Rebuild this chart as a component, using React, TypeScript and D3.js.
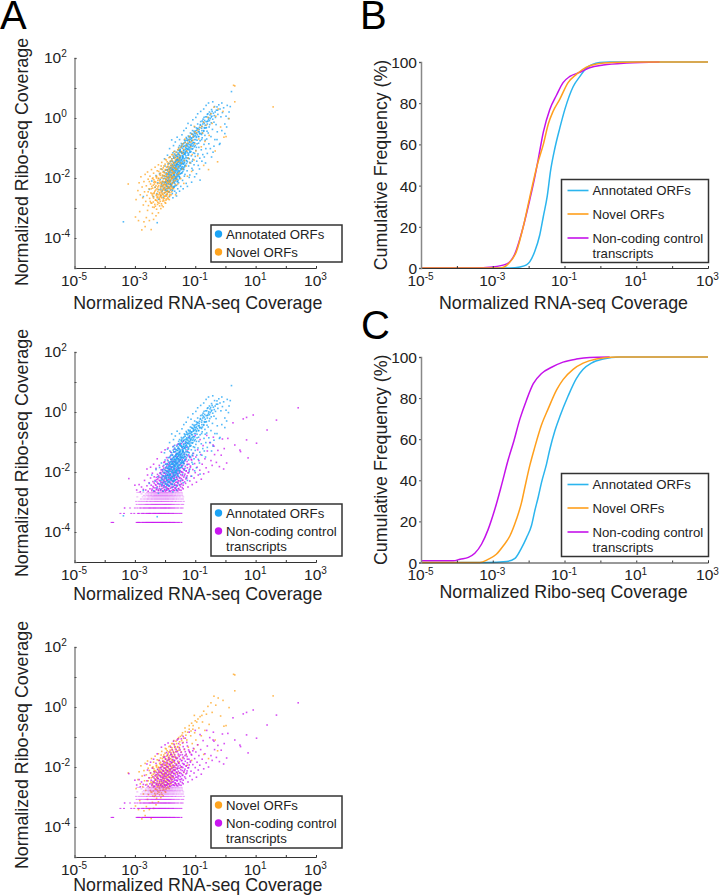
import * as d3 from 'd3';
import { useEffect, useRef } from 'react';

// all coordinates below are log10 of the normalized coverage
const annotatedPoints = [
  [-3.38,-3.46],[-2.26,-3.49],[-2.72,-2.62],[-2.52,-2.38],[-2.44,-2.1],[-2.38,-2.62],[-2.33,-2.31],[-2.3,-1.92],[-2.27,-2.52],[-2.24,-2.16],
  [-2.22,-2.71],[-2.2,-2.39],[-2.18,-1.85],[-2.16,-2.05],[-2.15,-2.58],[-2.13,-2.28],[-2.12,-1.7],[-2.1,-2.45],[-2.09,-2.12],[-2.08,-1.93],
  [-2.06,-2.64],[-2.05,-2.34],[-2.04,-1.78],[-2.03,-2.2],[-2.02,-2.5],[-2.01,-2.01],[-2,-1.6],[-1.99,-2.41],[-1.98,-2.15],[-1.97,-1.87],
  [-1.96,-2.56],[-1.95,-2.26],[-1.94,-1.96],[-1.93,-1.72],[-1.92,-2.36],[-1.91,-2.08],[-1.9,-1.52],[-1.89,-2.47],[-1.88,-2.18],[-1.87,-1.81],
  [-1.86,-2.62],[-1.85,-2.3],[-1.84,-1.99],[-1.83,-1.66],[-1.82,-2.4],[-1.81,-2.1],[-1.8,-1.43],[-1.79,-1.9],[-1.78,-2.23],[-1.77,-1.74],
  [-1.76,-2.52],[-1.75,-2.02],[-1.74,-1.58],[-1.73,-2.33],[-1.72,-1.84],[-1.71,-1.33],[-1.7,-2.14],[-1.69,-1.66],[-1.68,-2.44],[-1.67,-1.94],
  [-1.66,-1.48],[-1.65,-2.26],[-1.64,-1.76],[-1.63,-1.26],[-1.62,-2.06],[-1.61,-1.57],[-1.6,-1.38],[-1.59,-1.88],[-1.58,-2.36],[-1.57,-1.68],
  [-1.56,-1.17],[-1.55,-2.16],[-1.54,-1.47],[-1.53,-1.79],[-1.52,-1.07],[-1.51,-1.98],[-1.5,-1.3],[-1.49,-1.6],[-1.48,-2.28],[-1.47,-1.4],
  [-1.46,-0.97],[-1.45,-1.84],[-1.44,-1.18],[-1.43,-1.52],[-1.42,-2.08],[-1.41,-1.28],[-1.4,-0.86],[-1.39,-1.7],[-1.38,-1.08],[-1.37,-1.42],
  [-1.36,-1.94],[-1.35,-1.2],[-1.34,-0.76],[-1.33,-1.58],[-1.32,-0.98],[-1.31,-1.32],[-1.3,-2.18],[-1.29,-1.1],[-1.28,-0.68],[-1.27,-1.76],
  [-1.26,-1.46],[-1.25,-0.9],[-1.24,-1.24],[-1.23,-0.6],[-1.22,-1.6],[-1.21,-1.02],[-1.2,-1.36],[-1.19,-0.78],[-1.18,-1.9],[-1.17,-1.14],
  [-1.16,-0.5],[-1.15,-1.5],[-1.14,-0.92],[-1.13,-1.26],[-1.12,-0.68],[-1.11,-1.68],[-1.1,-1.04],[-1.09,-0.42],[-1.08,-1.38],[-1.07,-0.82],
  [-1.06,-1.16],[-1.05,-0.6],[-1.04,-1.56],[-1.03,-0.96],[-1.02,-0.3],[-1,-1.28],[-0.99,-0.72],[-0.98,-1.08],[-0.96,-0.5],[-0.95,-1.44],
  [-0.94,-0.86],[-0.92,-0.2],[-0.91,-1.2],[-0.9,-0.62],[-0.88,-0.98],[-0.87,-0.38],[-0.85,-1.34],[-0.84,-0.76],[-0.82,-0.12],[-0.81,-0.52],
  [-0.8,-1.06],[-0.78,-0.28],[-0.77,-0.66],[-0.75,-1.22],[-0.74,-0.04],[-0.72,-0.42],[-0.71,-0.88],[-0.7,-0.18],[-0.68,-0.58],[-0.66,0.04],
  [-0.65,-1.02],[-0.63,-0.32],[-0.62,-0.7],[-0.6,0.12],[-0.58,-0.1],[-0.57,-0.5],[-0.55,-0.86],[-0.53,0.2],[-0.52,-0.22],[-0.5,-0.02],
  [-0.48,-0.62],[-0.46,0.28],[-0.45,0.06],[-0.43,-0.38],[-0.41,-1.14],[-0.4,0.16],[-0.38,-0.14],[-0.36,0.38],[-0.35,-0.72],[-0.33,0.02],
  [-0.3,0.26],[-0.28,0.37],[-0.27,-0.46],[-0.25,0.12],[-0.22,0.44],[-0.2,-0.88],[-0.18,0.3],[-0.15,0.04],[-0.12,0.5],[-0.1,0.18],
  [-0.06,0.34],[-0.02,-0.2],[0.02,0.06],[0.06,0.42],[0.1,-0.02],[0.2,0.88],[-1.72,-2.05],[-1.68,-1.2],[-1.63,-2.5],[-1.58,-1.55],
  [-1.55,-0.98],[-1.52,-2.02],[-1.49,-1.12],[-1.46,-1.7],[-1.42,-1.62],[-1.4,-1.14],[-1.36,-1.5],[-1.34,-1.88],[-1.3,-0.9],[-1.28,-1.42],
  [-1.24,-0.72],[-1.22,-1.18],[-1.18,-1.48],[-1.16,-0.96],[-1.12,-0.52],[-1.1,-1.44],[-1.06,-0.9],[-1.02,-1.18],[-1,-0.58],[-0.96,-0.98],
  [-1.78,-1.6],[-1.75,-2.42],[-1.72,-1.5],[-1.7,-1.9],[-1.68,-1.58],[-1.66,-2.1],[-1.64,-1.44],[-1.62,-1.72],[-1.6,-1.96],[-1.58,-1.28],
  [-1.56,-1.74],[-1.54,-1.22],[-1.52,-1.6],[-1.5,-1.86],[-1.48,-1.5],[-1.46,-1.14],[-1.44,-1.68],[-1.42,-1.34],[-1.4,-1.52],[-1.38,-1.72],
  [-1.9,-1.84],[-1.88,-2.32],[-1.86,-1.72],[-1.84,-2.12],[-1.82,-1.9],[-1.8,-2.28],[-1.78,-1.98],[-1.76,-1.68],[-1.74,-2.16],[-1.72,-1.72],
  [-1.7,-2.3],[-1.68,-1.82],[-1.66,-1.64],[-1.64,-2.0],[-1.62,-1.52],[-1.6,-1.8],[-1.58,-2.12],[-1.56,-1.42],[-1.54,-1.94],[-1.52,-1.36],
  [-1.98,-1.74],[-1.96,-2.12],[-1.94,-2.44],[-1.92,-1.88],[-1.9,-2.2],[-1.88,-1.98],[-1.86,-2.46],[-1.84,-1.82],[-1.82,-2.22],[-1.8,-1.74],
  [-1.5,-1.08],[-1.47,-1.54],[-1.44,-0.9],[-1.41,-1.4],[-1.38,-0.94],[-1.35,-1.62],[-1.32,-1.16],[-1.29,-1.52],[-1.26,-1.04],[-1.23,-1.34],
  [-1.2,-0.88],[-1.17,-0.66],[-1.14,-1.12],[-1.11,-0.76],[-1.08,-1.02],[-1.05,-0.82],[-1.03,-0.48],[-1,-0.92],[-0.97,-0.62],[-0.93,-0.36],
  [-0.89,-0.84],[-0.86,-0.5],[-0.83,-0.24],[-0.79,-0.72],[-0.76,-0.5],[-0.73,-0.14],[-0.69,-0.34],[-0.67,-0.74],[-0.64,-0.12],[-0.61,-0.44],
  [-0.56,-0.04],[-0.54,-0.3],[-0.51,0.1],[-0.47,-0.16],[-0.44,0.22],[-0.42,-0.04],[-0.37,0.08],[-0.34,0.2],[-0.31,-0.22],[-0.26,0.26],
];

// the dense middle of the annotated cloud, read band by band in y
const annotatedCore = [
  [-2.14,-2.37],[-1.93,-2.43],[-2.01,-2.33],[-1.77,-2.39],[-1.87,-2.35],[-2.09,-2.41],[-1.71,-2.31],[-1.98,-2.38],
  [-2.07,-2.27],[-1.79,-2.24],[-1.91,-2.3],[-1.97,-2.22],[-1.69,-2.27],[-2.12,-2.23],[-1.84,-2.21],[-1.62,-2.24],[-1.94,-2.28],[-1.74,-2.29],
  [-2.03,-2.14],[-1.68,-2.18],[-1.86,-2.13],[-1.95,-2.19],[-1.6,-2.12],[-1.76,-2.16],[-2.1,-2.17],[-1.81,-2.19],[-1.9,-2.11],[-1.72,-2.12],[-1.99,-2.13],
  [-1.65,-2.03],[-1.83,-2.07],[-1.96,-2.04],[-1.73,-2.09],[-2.06,-2.02],[-1.57,-2.07],[-1.88,-2.03],[-1.78,-2.01],[-1.69,-2.03],[-1.92,-2.08],[-1.62,-2.01],[-1.85,-2.09],
  [-1.98,-1.95],[-1.74,-1.98],[-1.6,-1.92],[-1.87,-1.94],[-1.67,-1.99],[-1.53,-1.96],[-2.03,-1.92],[-1.8,-1.92],[-1.7,-1.93],[-1.91,-1.98],[-1.56,-1.9],[-1.76,-1.94],[-1.64,-1.96],
  [-1.85,-1.87],[-1.58,-1.83],[-1.72,-1.89],[-1.96,-1.83],[-1.48,-1.85],[-1.66,-1.81],[-1.79,-1.83],[-1.89,-1.89],[-1.54,-1.88],[-1.62,-1.86],[-1.75,-1.82],[-1.69,-1.87],[-1.44,-1.82],
  [-1.82,-1.77],[-1.6,-1.73],[-1.71,-1.79],[-1.51,-1.76],[-1.93,-1.74],[-1.65,-1.71],[-1.41,-1.78],[-1.77,-1.72],[-1.56,-1.79],[-1.86,-1.79],[-1.68,-1.76],[-1.47,-1.72],[-1.74,-1.74],
  [-1.79,-1.66],[-1.57,-1.62],[-1.67,-1.69],[-1.45,-1.64],[-1.9,-1.63],[-1.61,-1.67],[-1.73,-1.62],[-1.5,-1.68],[-1.38,-1.65],[-1.84,-1.68],[-1.63,-1.62],[-1.54,-1.64],[-1.7,-1.66],[-1.42,-1.69],
  [-1.76,-1.55],[-1.6,-1.53],[-1.49,-1.58],[-1.66,-1.59],[-1.86,-1.52],[-1.39,-1.54],[-1.55,-1.56],[-1.71,-1.51],[-1.44,-1.51],[-1.63,-1.55],[-1.81,-1.58],[-1.34,-1.58],[-1.52,-1.52],[-1.69,-1.57],
  [-1.75,-1.44],[-1.58,-1.48],[-1.47,-1.43],[-1.64,-1.42],[-1.36,-1.47],[-1.53,-1.41],[-1.82,-1.46],[-1.42,-1.46],[-1.68,-1.47],[-1.3,-1.42],[-1.55,-1.45],[-1.6,-1.41],[-1.49,-1.47],
  [-1.71,-1.33],[-1.56,-1.37],[-1.43,-1.32],[-1.62,-1.38],[-1.35,-1.36],[-1.5,-1.33],[-1.78,-1.36],[-1.27,-1.33],[-1.46,-1.38],[-1.65,-1.31],[-1.39,-1.33],[-1.53,-1.31],
  [-1.66,-1.24],[-1.48,-1.27],[-1.38,-1.22],[-1.58,-1.21],[-1.31,-1.26],[-1.43,-1.25],[-1.73,-1.27],[-1.22,-1.23],[-1.52,-1.24],[-1.34,-1.21],[-1.6,-1.28],[-1.41,-1.28],
  [-1.61,-1.14],[-1.44,-1.17],[-1.33,-1.12],[-1.52,-1.11],[-1.26,-1.16],[-1.38,-1.15],[-1.18,-1.13],[-1.47,-1.13],[-1.68,-1.11],[-1.29,-1.11],[-1.35,-1.18],
  [-1.5,-1.04],[-1.39,-1.07],[-1.27,-1.03],[-1.22,-1.06],[-1.43,-1.01],[-1.33,-1.05],[-1.14,-1.02],[-1.56,-1.07],[-1.3,-1.01],[-1.18,-1.07],
  [-1.46,-0.94],[-1.34,-0.92],[-1.24,-0.96],[-1.16,-0.91],[-1.39,-0.96],[-1.28,-0.93],[-1.09,-0.94],[-1.52,-0.92],[-1.2,-0.98],
  [-1.37,-0.83],[-1.28,-0.86],[-1.18,-0.81],[-1.1,-0.85],[-1.33,-0.81],[-1.23,-0.84],[-1.02,-0.83],[-1.46,-0.85],[-1.14,-0.87],
  [-1.29,-0.74],[-1.2,-0.71],[-1.11,-0.75],[-1.03,-0.72],[-1.25,-0.76],[-1.15,-0.72],[-0.94,-0.74],[-1.36,-0.73],
  [-1.21,-0.63],[-1.12,-0.66],[-1.04,-0.62],[-0.96,-0.65],[-1.17,-0.61],[-1.07,-0.64],[-0.88,-0.62],[-1.3,-0.65],
  [-1.1,-0.54],[-1.03,-0.52],[-0.93,-0.56],[-0.85,-0.53],[-1.07,-0.56],[-0.98,-0.52],[-0.79,-0.55],
  [-1.04,-0.44],[-0.95,-0.41],[-0.87,-0.45],[-0.78,-0.42],[-0.99,-0.43],[-0.9,-0.46],[-0.72,-0.44],
  [-0.96,-0.33],[-0.86,-0.31],[-0.79,-0.34],[-0.7,-0.32],[-0.91,-0.35],[-0.65,-0.33],[-0.83,-0.22],[-0.75,-0.2],[-0.67,-0.24],[-0.6,-0.2],
  [-0.77,-0.1],[-0.69,-0.08],[-0.6,-0.12],[-0.53,-0.09],[-0.71,0.02],[-0.62,0.04],[-0.55,0.01],[-0.47,0.03],[-0.58,0.14],[-0.49,0.15],
];

// stragglers on both sides of the annotated ridge
const annotatedFlanks = [
  [-1.78,-0.73],[-1.85,-1.02],[-1.92,-1.24],[-2.02,-1.36],[-1.72,-0.92],[-1.66,-0.8],[-1.6,-0.64],[-1.74,-1.16],[-1.84,-1.3],[-1.52,-0.72],
  [-1.44,-0.56],[-1.38,-0.42],[-1.3,-0.34],[-1.24,-0.18],[-1.14,-0.24],[-1.08,-0.06],[-0.98,0.02],[-0.92,0.14],[-0.82,0.22],[-0.72,0.3],
  [-0.64,0.42],[-0.56,0.5],[-0.42,0.54],[-0.84,-2.07],[-0.96,-1.86],[-1.08,-1.74],[-0.9,-1.58],[-0.78,-1.44],[-0.7,-1.3],[-0.6,-1.18],
  [-0.5,-1.02],[-0.38,-0.94],[-0.28,-0.72],[-0.18,-0.85],[-0.12,-0.42],[-0.02,-0.52],[0.04,-0.3],[0.12,0.2],[0.16,0.38],[-1.2,-1.98],
  [-1.12,-2.14],[-1.26,-2.28],[-1.4,-2.36],[-1.52,-2.44],[-1.62,-2.6],[-1.74,-2.66],[-1.02,-1.96],[-0.86,-1.7],[-0.66,-1.5],[-0.46,-1.3],
];

const novelPoints = [
  [-3.22,-2.2],[-2.77,-3.73],[-2.98,-3.3],[-2.88,-3.42],[-2.84,-3.12],[-2.7,-3.46],[-2.66,-3.62],[-2.62,-3.32],[-2.58,-3.08],[-2.52,-3.42],
  [-2.46,-3.72],[-2.42,-3.18],[-2.38,-3.38],[-2.3,-3.26],[-2.22,-3.16],[-2.14,-3.02],[-2.96,-2.72],[-2.9,-2.42],[-2.86,-2.16],[-2.82,-2.56],
  [-2.8,-1.96],[-2.76,-2.3],[-2.74,-2.66],[-2.72,-2.9],[-2.7,-2.12],[-2.68,-2.46],[-2.66,-1.88],[-2.64,-2.78],[-2.62,-2.26],[-2.6,-2.58],
  [-2.58,-1.8],[-2.56,-2.04],[-2.55,-2.92],[-2.53,-2.36],[-2.51,-2.68],[-2.5,-1.94],[-2.48,-2.2],[-2.47,-2.5],[-2.45,-1.72],[-2.44,-2.84],
  [-2.42,-2.02],[-2.41,-2.34],[-2.4,-2.62],[-2.38,-1.84],[-2.37,-2.14],[-2.36,-2.98],[-2.34,-2.44],[-2.33,-1.64],[-2.32,-2.74],[-2.3,-2.26],
  [-2.29,-1.96],[-2.28,-2.54],[-2.26,-1.76],[-2.25,-2.88],[-2.24,-2.08],[-2.23,-2.38],[-2.22,-1.56],[-2.2,-2.64],[-2.19,-2.18],[-2.18,-1.88],
  [-2.17,-2.48],[-2.16,-2.78],[-2.15,-1.7],[-2.14,-2.28],[-2.13,-2.0],[-2.12,-2.58],[-2.11,-1.48],[-2.1,-2.92],[-2.09,-2.12],[-2.08,-2.4],
  [-2.07,-1.8],[-2.06,-2.7],[-2.05,-2.22],[-2.04,-1.6],[-2.03,-2.5],[-2.02,-1.94],[-2.01,-2.32],[-2,-2.82],[-1.99,-1.72],[-1.98,-2.06],
  [-1.97,-2.6],[-1.96,-1.4],[-1.95,-2.24],[-1.94,-1.86],[-1.93,-2.44],[-1.92,-1.62],[-1.91,-2.14],[-1.9,-2.7],[-1.89,-1.98],[-1.88,-1.5],
  [-1.87,-2.34],[-1.86,-1.76],[-1.85,-2.1],[-1.84,-2.56],[-1.83,-1.3],[-1.82,-1.9],[-1.81,-2.26],[-1.8,-1.58],[-1.79,-2.02],[-1.78,-2.46],
  [-1.77,-1.42],[-1.76,-1.78],[-1.75,-2.16],[-1.74,-1.22],[-1.73,-1.96],[-1.72,-2.36],[-1.71,-1.52],[-1.7,-1.84],[-1.68,-1.34],[-1.67,-2.08],
  [-1.66,-1.68],[-1.65,-2.56],[-1.64,-1.14],[-1.62,-1.9],[-1.6,-1.46],[-1.58,-2.2],[-1.56,-1.62],[-1.55,-1.02],[-1.53,-1.82],[-1.5,-1.26],
  [-1.48,-2.02],[-1.46,-1.5],[-1.44,-0.94],[-1.42,-1.7],[-1.4,-1.18],[-1.38,-2.18],[-1.36,-1.42],[-1.33,-0.82],[-1.3,-1.6],[-1.28,-1.1],
  [-1.26,-1.94],[-1.23,-1.34],[-1.2,-0.74],[-1.18,-1.5],[-1.15,-0.96],[-1.12,-1.78],[-1.1,-1.22],[-1.07,-0.62],[-1.04,-1.4],[-1.02,-0.86],
  [-0.98,-1.1],[-0.95,-0.5],[-0.92,-1.26],[-0.88,-0.7],[-0.84,-0.32],[-0.8,-0.96],[-0.76,-0.5],[-0.72,-0.14],[-0.68,-0.78],[-0.63,-0.24],
  [-0.58,0.02],[-0.54,-0.58],[-0.48,0.14],[-0.44,-0.18],[-0.38,0.36],[-0.32,0.06],[-0.26,-1.46],[-0.24,0.3],[-0.16,-0.3],[-0.08,0.22],
  [0.02,-0.62],[-0.05,-0.64],[0.12,-0.02],[0.31,1.07],[0.27,1.09],[0.31,0.54],[1.58,0.37],[-0.56,-1.72],[-0.72,-1.58],[-0.34,-1.1],
  [-2.44,-2.28],[-2.4,-2.0],[-2.37,-2.52],[-2.34,-2.12],[-2.31,-2.4],[-2.28,-2.0],[-2.26,-2.62],[-2.24,-2.3],[-2.21,-2.02],[-2.19,-2.5],
  [-2.18,-2.72],[-2.16,-2.14],[-2.14,-2.42],[-2.12,-2.2],[-2.11,-2.66],[-2.09,-1.9],[-2.08,-2.54],[-2.06,-2.34],[-2.05,-2.02],[-2.04,-2.76],
  [-2.03,-2.14],[-2.02,-2.4],[-2.01,-1.82],[-2,-2.6],[-1.99,-2.22],[-1.98,-2.48],[-1.97,-1.94],[-1.96,-2.7],[-1.95,-2.12],[-1.94,-2.34],
  [-1.93,-2.0],[-1.92,-2.54],[-1.91,-1.78],[-1.9,-2.28],[-1.89,-2.44],[-1.88,-2.06],[-1.87,-1.68],[-1.86,-2.22],[-1.85,-2.6],[-1.84,-1.92],
  [-1.83,-2.12],[-1.82,-2.4],[-1.81,-1.72],[-1.8,-2.06],[-1.79,-2.3],[-1.78,-1.88],[-1.77,-2.0],[-1.76,-1.6],[-1.75,-2.34],[-1.74,-1.84],
  [-1.72,-2.1],[-1.7,-1.66],[-1.68,-1.96],[-1.66,-2.22],[-1.64,-1.5],[-1.62,-1.72],[-1.6,-2.04],[-1.58,-1.32],[-1.56,-1.86],[-1.54,-1.44],
  [-2.56,-2.46],[-2.52,-2.12],[-2.49,-2.78],[-2.46,-2.36],[-2.43,-2.52],[-2.39,-2.8],[-2.35,-2.2],[-2.32,-2.94],[-2.27,-2.76],[-2.23,-2.56],
  [-2.2,-2.84],[-2.15,-2.6],[-2.1,-2.52],[-2.07,-2.24],[-2.02,-2.62],[-1.98,-2.84],[-1.94,-2.6],[-1.9,-2.46],[-1.86,-2.72],[-1.8,-2.56],
];

const novelCore = [
  [-2.41,-2.97],[-2.28,-3.04],[-2.18,-2.93],[-2.34,-2.88],[-2.06,-2.96],[-2.47,-2.83],[-2.12,-2.86],[-2.24,-2.81],
  [-2.31,-2.73],[-2.19,-2.69],[-2.08,-2.77],[-2.38,-2.67],[-1.97,-2.74],[-2.14,-2.63],[-2.26,-2.66],[-2.03,-2.68],[-1.91,-2.66],
  [-2.29,-2.58],[-2.17,-2.54],[-2.05,-2.57],[-2.36,-2.49],[-1.93,-2.52],[-2.11,-2.47],[-2.24,-2.45],[-1.99,-2.47],[-2.42,-2.57],[-1.84,-2.49],
  [-2.27,-2.36],[-2.15,-2.33],[-2.04,-2.38],[-2.33,-2.31],[-1.95,-2.36],[-2.09,-2.29],[-2.21,-2.26],[-1.88,-2.31],[-2.39,-2.24],[-2,-2.27],[-1.81,-2.35],
  [-2.25,-2.19],[-2.13,-2.17],[-2.01,-2.21],[-2.31,-2.14],[-1.92,-2.17],[-2.07,-2.11],[-2.18,-2.09],[-1.85,-2.14],[-2.37,-2.06],[-1.97,-2.09],[-1.78,-2.19],
  [-2.22,-2.01],[-2.1,-1.98],[-1.98,-2.03],[-2.28,-1.94],[-1.89,-1.99],[-2.04,-1.92],[-2.16,-1.91],[-1.82,-1.96],[-1.94,-1.91],[-1.74,-2.01],
  [-2.15,-1.84],[-2.03,-1.82],[-1.93,-1.86],[-2.21,-1.78],[-1.85,-1.82],[-1.98,-1.74],[-2.09,-1.72],[-1.77,-1.76],[-1.89,-1.71],[-1.7,-1.81],
  [-2.06,-1.66],[-1.95,-1.64],[-1.84,-1.62],[-2.13,-1.6],[-1.76,-1.66],[-1.9,-1.56],[-2,-1.54],[-1.69,-1.58],[-1.8,-1.52],[-1.64,-1.7],
  [-1.93,-1.46],[-1.83,-1.44],[-1.73,-1.48],[-1.99,-1.38],[-1.66,-1.4],[-1.77,-1.36],[-1.87,-1.32],[-1.59,-1.34],[-1.69,-1.28],[-1.52,-1.38],
  [-1.78,-1.22],[-1.62,-1.22],[-1.52,-1.16],[-1.71,-1.12],[-1.45,-1.12],[-1.58,-1.06],[-1.38,-1.04],[-1.49,-0.98],[-1.31,-0.94],[-1.42,-0.86],
  [-1.25,-0.84],[-1.14,-0.8],[-1.34,-0.7],[-1.2,-0.62],[-1.08,-0.74],[-1.12,-0.54],[-1.0,-0.46],[-1.03,-0.28],[-0.91,-0.4],[-0.78,-0.28],
];

const noncodingPoints = [
  [-3.2,-2.22],[-3,-2.44],[-3.34,-3.2],[2.41,0.14],[1.69,-0.27],[1.38,-0.6],[0.92,-0.1],[0.7,-0.18],[0.59,-0.23],[0.25,-0.36],
  [1.03,-1.04],[0.7,-0.93],[0.48,-1.27],[0.5,-1.32],[0.31,-1.1],[0.75,-1.53],[-0.41,-1.1],[-0.38,-1.14],[-0.1,-0.9],[-0.25,-1.28],
  [-2.94,-2.6],[-2.86,-2.42],[-2.82,-2.66],[-2.78,-2.5],[-2.72,-2.58],[-2.68,-2.28],[-2.64,-2.6],[-2.6,-2.46],[-2.58,-2.1],[-2.56,-2.64],
  [-2.53,-2.36],[-2.5,-2.56],[-2.48,-2.2],[-2.46,-2.44],[-2.44,-2.62],[-2.42,-2.04],[-2.4,-2.32],[-2.38,-2.52],[-2.36,-2.16],[-2.34,-2.64],
  [-2.32,-2.42],[-2.3,-1.88],[-2.28,-2.26],[-2.27,-2.56],[-2.25,-2.08],[-2.24,-2.38],[-2.22,-2.6],[-2.2,-2.18],[-2.19,-1.78],[-2.18,-2.48],
  [-2.16,-2.3],[-2.15,-2.62],[-2.14,-2.02],[-2.12,-2.42],[-2.11,-2.2],[-2.1,-2.55],[-2.09,-1.92],[-2.08,-2.34],[-2.07,-2.64],[-2.06,-2.12],
  [-2.05,-2.46],[-2.04,-1.68],[-2.03,-2.26],[-2.02,-2.58],[-2.01,-2.04],[-2,-2.38],[-1.99,-2.64],[-1.98,-1.86],[-1.97,-2.18],[-1.96,-2.5],
  [-1.95,-2.3],[-1.94,-2.6],[-1.93,-1.98],[-1.92,-2.42],[-1.91,-2.12],[-1.9,-2.56],[-1.89,-1.76],[-1.88,-2.24],[-1.87,-2.46],[-1.86,-2.64],
  [-1.85,-1.92],[-1.84,-2.34],[-1.83,-2.08],[-1.82,-2.54],[-1.81,-1.58],[-1.8,-2.2],[-1.79,-2.42],[-1.78,-2.62],[-1.77,-1.84],[-1.76,-2.14],
  [-1.75,-2.5],[-1.74,-2.3],[-1.73,-1.66],[-1.72,-2.02],[-1.71,-2.6],[-1.7,-2.22],[-1.69,-2.44],[-1.68,-1.78],[-1.67,-2.1],[-1.66,-2.54],
  [-1.65,-2.34],[-1.64,-1.48],[-1.63,-1.94],[-1.62,-2.62],[-1.61,-2.18],[-1.6,-2.44],[-1.59,-1.7],[-1.58,-2.04],[-1.57,-2.3],[-1.56,-2.56],
  [-1.54,-1.88],[-1.52,-2.2],[-1.5,-1.6],[-1.48,-2.42],[-1.46,-2.0],[-1.44,-1.78],[-1.42,-2.28],[-1.4,-2.56],[-1.38,-1.9],[-1.36,-2.12],
  [-1.34,-1.62],[-1.32,-2.38],[-1.3,-1.96],[-1.28,-2.2],[-1.26,-1.74],[-1.24,-2.5],[-1.22,-2.02],[-1.2,-1.48],[-1.18,-2.3],[-1.16,-1.84],
  [-1.14,-2.14],[-1.12,-1.6],[-1.1,-2.42],[-1.08,-1.92],[-1.06,-1.38],[-1.04,-2.2],[-1.02,-1.72],[-1,-2.02],[-0.98,-1.5],[-0.96,-2.34],
  [-0.94,-1.84],[-0.92,-1.26],[-0.9,-2.1],[-0.88,-1.62],[-0.85,-1.94],[-0.82,-1.42],[-0.8,-2.24],[-0.77,-1.74],[-0.74,-1.12],[-0.72,-2.06],
  [-0.68,-1.56],[-0.64,-1.86],[-0.6,-1.3],[-0.56,-2.0],[-0.52,-1.02],[-0.48,-1.62],[-0.44,-1.78],[-0.4,-0.84],[-0.36,-1.42],[-0.3,-1.68],
  [-0.2,-1.82],[-0.14,-1.44],[-0.06,-1.9],[-0.04,-1.22],[0.04,-1.7],[0.08,-0.88],[-0.62,-0.78],[-0.84,-0.92],[-1.0,-0.78],[-1.2,-0.84],
  [-1.4,-0.98],[-1.56,-1.06],[-1.72,-1.14],[-1.9,-1.2],[-2.0,-1.26],[-2.12,-1.34],[-2.26,-1.56],[-2.38,-1.74],[-2.48,-1.84],[-2.6,-1.9],
];

const noncodingCore = [
  [-2.37,-2.64],[-2.22,-2.62],[-2.09,-2.63],[-1.95,-2.61],[-1.83,-2.64],[-1.69,-2.62],[-1.58,-2.63],[-1.47,-2.61],[-2.29,-2.59],[-2.14,-2.58],[-2.01,-2.6],[-1.88,-2.57],[-1.74,-2.59],[-1.63,-2.58],[-1.52,-2.6],[-2.43,-2.57],
  [-2.33,-2.53],[-2.19,-2.55],[-2.05,-2.52],[-1.92,-2.54],[-1.79,-2.51],[-1.67,-2.53],[-1.55,-2.55],[-1.43,-2.52],[-2.26,-2.49],[-2.11,-2.47],[-1.98,-2.5],[-1.85,-2.47],[-1.72,-2.49],[-1.6,-2.47],[-1.49,-2.49],[-2.4,-2.48],
  [-2.3,-2.44],[-2.17,-2.42],[-2.03,-2.45],[-1.89,-2.43],[-1.76,-2.41],[-1.64,-2.44],[-1.53,-2.42],[-1.4,-2.44],[-2.23,-2.39],[-2.07,-2.38],[-1.94,-2.4],[-1.81,-2.37],[-1.69,-2.39],[-1.57,-2.37],[-1.45,-2.39],[-2.36,-2.37],
  [-2.27,-2.33],[-2.13,-2.34],[-1.99,-2.32],[-1.86,-2.35],[-1.73,-2.32],[-1.61,-2.34],[-1.49,-2.32],[-1.35,-2.33],[-2.19,-2.28],[-2.04,-2.3],[-1.91,-2.27],[-1.78,-2.29],[-1.66,-2.27],[-1.54,-2.29],[-1.42,-2.27],[-2.33,-2.28],
  [-2.24,-2.23],[-2.09,-2.24],[-1.96,-2.22],[-1.83,-2.25],[-1.71,-2.22],[-1.59,-2.24],[-1.46,-2.22],[-1.31,-2.23],[-2.15,-2.18],[-2.01,-2.2],[-1.87,-2.17],[-1.75,-2.19],[-1.63,-2.17],[-1.51,-2.19],[-1.38,-2.17],[-2.29,-2.18],
  [-2.21,-2.13],[-2.06,-2.14],[-1.93,-2.12],[-1.8,-2.15],[-1.68,-2.12],[-1.56,-2.14],[-1.43,-2.12],[-1.27,-2.13],[-2.12,-2.08],[-1.98,-2.09],[-1.84,-2.07],[-1.72,-2.1],[-1.6,-2.07],[-1.48,-2.09],[-1.34,-2.07],
  [-2.17,-2.03],[-2.03,-2.04],[-1.9,-2.02],[-1.77,-2.05],[-1.65,-2.02],[-1.53,-2.04],[-1.41,-2.02],[-1.24,-2.03],[-2.08,-1.98],[-1.95,-1.99],[-1.82,-1.97],[-1.7,-2.0],[-1.57,-1.97],[-1.45,-1.99],[-1.3,-1.97],
  [-2.13,-1.93],[-1.99,-1.94],[-1.86,-1.91],[-1.74,-1.94],[-1.62,-1.92],[-1.5,-1.95],[-1.37,-1.92],[-1.2,-1.93],[-2.04,-1.87],[-1.91,-1.88],[-1.79,-1.86],[-1.67,-1.88],[-1.55,-1.86],[-1.42,-1.88],[-1.26,-1.86],
  [-2.07,-1.81],[-1.94,-1.8],[-1.82,-1.82],[-1.7,-1.79],[-1.58,-1.81],[-1.46,-1.79],[-1.33,-1.81],[-1.16,-1.8],[-1.98,-1.74],[-1.85,-1.73],[-1.74,-1.75],[-1.62,-1.72],[-1.5,-1.74],[-1.37,-1.72],[-1.21,-1.74],
  [-2.01,-1.66],[-1.88,-1.68],[-1.77,-1.65],[-1.65,-1.67],[-1.53,-1.65],[-1.4,-1.67],[-1.27,-1.65],[-1.92,-1.6],[-1.8,-1.58],[-1.68,-1.6],[-1.56,-1.57],[-1.43,-1.59],[-1.3,-1.57],[-1.13,-1.58],
  [-1.95,-1.52],[-1.84,-1.5],[-1.72,-1.52],[-1.59,-1.49],[-1.47,-1.51],[-1.33,-1.49],[-1.18,-1.52],[-1.76,-1.43],[-1.63,-1.41],[-1.5,-1.43],[-1.36,-1.4],[-1.22,-1.43],[-1.08,-1.46],
  [-1.81,-1.34],[-1.67,-1.33],[-1.53,-1.35],[-1.4,-1.32],[-1.26,-1.3],[-1.7,-1.24],[-1.55,-1.22],[-1.42,-1.2],[-1.28,-1.18],[-1.6,-1.1],[-1.46,-1.06],[-1.33,-1.04],
];

// discrete low-read rows of the non-coding set: one read, two reads, and so on
const rowLevels = [-3.68, -3.38, -3.2, -3.08, -2.98, -2.9, -2.83, -2.78, -2.73, -2.68];
const rowXs = [
  [-3.77,-3.72,-2.94,-2.9,-2.86,-2.82,-2.76,-2.72,-2.68,-2.64,-2.61,-2.58,-2.55,-2.52,-2.49,-2.46,-2.43,-2.4,-2.37,-2.34,-2.31,-2.28,-2.25,-2.22,-2.19,-2.16,-2.13,-2.1,-2.07,-2.04,-2.01,-1.98,-1.95,-1.92,-1.88,-1.85,-1.82,-1.78,-1.74,-1.7,-1.66,-1.6,-1.54,-1.46],
  [-3.48,-3.36,-3.12,-3.02,-2.9,-2.86,-2.78,-2.74,-2.7,-2.64,-2.6,-2.56,-2.53,-2.5,-2.47,-2.42,-2.39,-2.36,-2.33,-2.3,-2.26,-2.23,-2.2,-2.17,-2.14,-2.11,-2.08,-2.05,-2.02,-1.99,-1.96,-1.92,-1.89,-1.86,-1.82,-1.78,-1.74,-1.7,-1.64,-1.58,-1.52,-1.46],
  [-3.16,-3.0,-2.92,-2.84,-2.8,-2.74,-2.7,-2.66,-2.62,-2.58,-2.54,-2.51,-2.48,-2.45,-2.41,-2.38,-2.35,-2.32,-2.29,-2.25,-2.22,-2.18,-2.15,-2.12,-2.09,-2.06,-2.03,-2,-1.97,-1.94,-1.9,-1.87,-1.84,-1.8,-1.76,-1.72,-1.68,-1.62,-1.56,-1.48,-1.42],
  [-2.94,-2.86,-2.8,-2.74,-2.68,-2.64,-2.6,-2.56,-2.52,-2.48,-2.45,-2.42,-2.39,-2.36,-2.33,-2.3,-2.27,-2.24,-2.21,-2.18,-2.15,-2.12,-2.09,-2.06,-2.03,-2,-1.97,-1.94,-1.91,-1.88,-1.85,-1.82,-1.79,-1.75,-1.71,-1.66,-1.6,-1.54,-1.46,-1.4],
  [-2.96,-2.88,-2.82,-2.76,-2.7,-2.64,-2.6,-2.55,-2.5,-2.46,-2.42,-2.38,-2.34,-2.31,-2.27,-2.24,-2.2,-2.16,-2.13,-2.1,-2.06,-2.03,-1.99,-1.96,-1.92,-1.89,-1.85,-1.81,-1.77,-1.73,-1.68,-1.64,-1.58,-1.52,-1.46,-1.38],
  [-2.8,-2.72,-2.66,-2.6,-2.56,-2.52,-2.47,-2.43,-2.39,-2.35,-2.32,-2.28,-2.25,-2.21,-2.18,-2.14,-2.11,-2.07,-2.04,-2,-1.97,-1.93,-1.9,-1.86,-1.82,-1.78,-1.74,-1.7,-1.65,-1.6,-1.54,-1.47,-1.41],
  [-2.92,-2.74,-2.66,-2.58,-2.53,-2.48,-2.44,-2.4,-2.36,-2.33,-2.29,-2.26,-2.22,-2.19,-2.15,-2.12,-2.08,-2.05,-2.01,-1.98,-1.94,-1.91,-1.87,-1.83,-1.79,-1.75,-1.71,-1.66,-1.61,-1.55,-1.49,-1.4],
  [-2.7,-2.62,-2.56,-2.51,-2.46,-2.42,-2.37,-2.34,-2.3,-2.27,-2.23,-2.2,-2.16,-2.13,-2.09,-2.06,-2.02,-1.99,-1.95,-1.92,-1.88,-1.84,-1.8,-1.76,-1.72,-1.67,-1.62,-1.56,-1.5,-1.43],
  [-2.78,-2.64,-2.57,-2.52,-2.47,-2.43,-2.38,-2.35,-2.31,-2.28,-2.24,-2.21,-2.17,-2.14,-2.1,-2.07,-2.03,-2,-1.96,-1.93,-1.89,-1.85,-1.81,-1.77,-1.73,-1.68,-1.63,-1.57,-1.51,-1.44],
  [-2.92,-2.86,-2.72,-2.6,-2.54,-2.49,-2.44,-2.4,-2.36,-2.32,-2.29,-2.25,-2.22,-2.18,-2.15,-2.11,-2.08,-2.04,-2.01,-1.97,-1.94,-1.9,-1.86,-1.82,-1.78,-1.74,-1.69,-1.64,-1.58,-1.52,-1.45],
];
// the first rows print strong, the crowded upper ones come out pale
const rowOpacity = [0.95, 0.8, 0.7, 0.55, 0.45, 0.4, 0.35, 0.35, 0.35, 0.35];

const xDecades = [-5, -4, -3, -2, -1, 0, 1, 2, 3];
const scatterYDecades = [-5, -4, -3, -2, -1, 0, 1, 2];
const percentTicks = [0, 20, 40, 60, 80, 100];

// [log10 coverage, cumulative %]
const rnaAnnotated = [[-5,0],[-2.52,0],[-2.24,0.5],[-2.06,1.5],[-1.97,3],[-1.83,8],[-1.69,16],[-1.59,25],[-1.48,35],[-1.39,47],[-1.27,58],[-1.13,68],[-0.99,77],[-0.76,88],[-0.57,93],[-0.39,97],[-0.02,99.7],[0.26,100],[3,100]];
const rnaNovel = [[-5,0],[-2.8,0],[-2.57,2],[-2.34,8],[-2.15,20],[-2.01,31],[-1.87,42],[-1.76,50],[-1.59,60],[-1.45,70],[-1.32,76],[-1.13,82],[-0.9,90],[-0.67,94],[-0.39,97.5],[-0.11,99],[0.35,99.8],[1,100],[3,100]];
const rnaNoncoding = [[-5,0],[-3.54,0],[-3,0.5],[-2.61,2],[-2.38,7],[-2.15,20],[-1.97,33],[-1.83,44],[-1.73,53],[-1.59,66],[-1.41,77],[-1.22,84],[-1.04,90],[-0.85,93],[-0.57,95],[-0.3,97.2],[0.08,98.5],[0.73,99.5],[1.65,100]];
const riboAnnotated = [[-5,0],[-3.17,0],[-2.61,0.5],[-2.38,2],[-2.2,7],[-2.06,12],[-1.92,18],[-1.83,25],[-1.73,32],[-1.64,39],[-1.5,48],[-1.41,55],[-1.27,64],[-1.13,71],[-0.9,81],[-0.67,89.5],[-0.48,94],[-0.25,97],[0.08,99],[0.54,100],[3,100]];
const riboNovel = [[-5,0],[-3.36,0],[-3.13,1.5],[-2.9,4],[-2.71,8],[-2.52,13],[-2.34,21],[-2.2,29],[-2.1,37],[-1.97,47],[-1.83,56],[-1.64,67],[-1.45,75],[-1.22,84],[-1.04,89],[-0.76,94],[-0.48,97],[-0.11,99],[0.45,100],[3,100]];
const riboNoncoding = [[-5,0.8],[-4.1,0.8],[-3.91,1.6],[-3.68,2.5],[-3.5,4.5],[-3.31,9],[-3.13,16],[-2.94,26],[-2.75,38],[-2.57,50],[-2.43,58],[-2.24,70],[-2.06,79],[-1.87,87],[-1.64,92],[-1.36,95],[-1.04,97.5],[-0.67,99],[-0.3,99.8],[0.26,100]];

const colors = { annotated: '#1ba3f5', novel: '#ffa41f', noncoding: '#c916f0' };
const lineColors = { annotated: '#2bb5ee', novel: '#ff9f1c', noncoding: '#c512ea' };
const ink = '#222';
const fontFamily = '"Liberation Sans", Arial, sans-serif';

const allAnnotated = [...annotatedPoints, ...annotatedCore, ...annotatedFlanks];
const allNovel = [...novelPoints, ...novelCore];
const allNoncoding = [...noncodingPoints, ...noncodingCore];
const rowPoints = rowLevels.flatMap((level, i) => rowXs[i].map((x) => [x, level, rowOpacity[i]]));

// axis tick label such as 10 with a raised exponent
const powerLabel = (g, x, y, exp, anchor) => {
  const t = g.append('text')
    .attr('x', x)
    .attr('y', y)
    .attr('text-anchor', anchor)
    .attr('font-size', 15.5)
    .attr('fill', ink);
  t.append('tspan').text('10');
  t.append('tspan')
    .attr('dy', -5.5)
    .attr('font-size', 10)
    .text(exp);
};

const drawXAxis = (g, x, height, label, labelY, labelDx) => {
  const axis = g.append('g')
    .attr('transform', `translate(0,${height})`)
    .call(d3.axisBottom(x).tickValues(xDecades.map((d) => 10 ** d)).tickSize(-2).tickFormat(() => ''));
  axis.selectAll('path').attr('stroke', '#333').attr('stroke-width', 1);
  axis.selectAll('line').attr('stroke', '#333');
  xDecades.filter((d) => (d + 5) % 2 === 0).forEach((d) => {
    powerLabel(g, x(10 ** d) - 0.5, height + 17.5, String(d), 'middle');
  });
  g.append('text')
    .attr('x', (x.range()[0] + x.range()[1]) / 2 + labelDx)
    .attr('y', labelY)
    .attr('text-anchor', 'middle')
    .attr('font-size', 17.8)
    .attr('fill', ink)
    .text(label);
};

const drawLegend = (svg, left, top, width, height, entries, marker) => {
  const g = svg.append('g').attr('transform', `translate(${left},${top})`);
  g.append('rect')
    .attr('width', width)
    .attr('height', height)
    .attr('fill', '#fff')
    .attr('stroke', '#333')
    .attr('stroke-width', 1.5);
  entries.forEach((e) => {
    if (marker === 'dot') {
      g.append('circle').attr('cx', 7.5).attr('cy', e.y - 4.5).attr('r', 3.7).attr('fill', e.color);
    } else {
      g.append('line').attr('x1', 6).attr('x2', 27).attr('y1', e.y - 4.5).attr('y2', e.y - 4.5).attr('stroke', e.color).attr('stroke-width', 1.6);
    }
    const textX = marker === 'dot' ? 15 : 31;
    e.lines.forEach((line, i) => {
      g.append('text')
        .attr('x', textX)
        .attr('y', e.y + i * 15)
        .attr('font-size', 13.2)
        .attr('fill', ink)
        .text(line);
    });
  });
};

const drawScatter = (svg, top, series, legend) => {
  const left = 74.5;
  const width = 241.5;
  const height = 210;
  const g = svg.append('g').attr('transform', `translate(${left},${top})`);
  const x = d3.scaleLog().domain([1e-5, 1e3]).range([0, width]);
  const y = d3.scaleLog().domain([1e-5, 1e2]).range([height, 0]);

  series.forEach((s) => {
    g.append('g')
      .selectAll('rect')
      .data(s.points)
      .enter()
      .append('rect')
      .attr('x', (d) => x(10 ** d[0]) - 0.8)
      .attr('y', (d) => y(10 ** d[1]) - 0.8)
      .attr('width', 1.6)
      .attr('height', 1.6)
      .attr('fill', s.color)
      .attr('opacity', 0.75);
    if (s.rows) {
      g.append('g')
        .selectAll('rect')
        .data(s.rows)
        .enter()
        .append('rect')
        .attr('x', (d) => x(10 ** d[0]) - 1)
        .attr('y', (d) => y(10 ** d[1]) - 0.5)
        .attr('width', 2)
        .attr('height', 1)
        .attr('fill', s.color)
        .attr('opacity', (d) => d[2]);
    }
  });

  drawXAxis(g, x, height, 'Normalized RNA-seq Coverage', legend.labelY - top, 2.5);

  const yAxis = g.append('g')
    .call(d3.axisLeft(y).tickValues(scatterYDecades.map((d) => 10 ** d)).tickSize(-2).tickFormat(() => ''));
  yAxis.selectAll('path').attr('stroke', '#888').attr('stroke-width', 1.5);
  yAxis.selectAll('line').attr('stroke', '#555');
  [-4, -2, 0, 2].forEach((d) => {
    powerLabel(g, -30.5, y(10 ** d) + 4.5, String(d), 'start');
  });
  g.append('text')
    .attr('transform', `translate(-47,${legend.yLabelCenter - top}) rotate(-90)`)
    .attr('text-anchor', 'middle')
    .attr('font-size', 17.8)
    .attr('fill', ink)
    .text('Normalized Ribo-seq Coverage');

  drawLegend(svg, 211, legend.top, 131, legend.height, legend.entries, 'dot');
};

const drawCdf = (svg, top, height, xLabel, labelY, series, legendTop) => {
  const left = 421;
  const width = 287;
  const g = svg.append('g').attr('transform', `translate(${left},${top})`);
  const x = d3.scaleLog().domain([1e-5, 1e3]).range([0, width]);
  const y = d3.scaleLinear().domain([0, 100]).range([height, 0]);
  const line = d3.line()
    .x((d) => x(10 ** d[0]))
    .y((d) => y(d[1]))
    .curve(d3.curveMonotoneX);

  series.forEach((s) => {
    g.append('path')
      .attr('d', line(s.values))
      .attr('fill', 'none')
      .attr('stroke', s.color)
      .attr('stroke-width', 1.5);
  });

  drawXAxis(g, x, height, xLabel, labelY - top, -1);

  const yAxis = g.append('g')
    .call(d3.axisLeft(y).tickValues(percentTicks).tickSize(2).tickFormat(() => ''));
  yAxis.selectAll('path').attr('stroke', '#888').attr('stroke-width', 1.5);
  yAxis.selectAll('line').attr('stroke', '#555');
  percentTicks.forEach((d) => {
    g.append('text')
      .attr('x', -4)
      .attr('y', y(d) + 6)
      .attr('text-anchor', 'end')
      .attr('font-size', 15.5)
      .attr('fill', ink)
      .text(d);
  });
  g.append('text')
    .attr('transform', `translate(-34,${height / 2}) rotate(-90)`)
    .attr('text-anchor', 'middle')
    .attr('font-size', 17.8)
    .attr('fill', ink)
    .text('Cumulative Frequency (%)');

  drawLegend(svg, 561.5, legendTop, 147, 83, [
    { y: 15.5, color: lineColors.annotated, lines: ['Annotated ORFs'] },
    { y: 39, color: lineColors.novel, lines: ['Novel ORFs'] },
    { y: 63, color: lineColors.noncoding, lines: ['Non-coding control', 'transcripts'] },
  ], 'line');
};

export default function App() {
  const ref = useRef<SVGSVGElement>(null);

  useEffect(() => {
    const svg = d3.select(ref.current);
    svg.selectAll('*').remove();

    drawScatter(svg, 58, [
      { points: allAnnotated, color: colors.annotated },
      { points: allNovel, color: colors.novel },
    ], {
      top: 225, height: 37, labelY: 309, yLabelCenter: 162,
      entries: [
        { y: 13.5, color: colors.annotated, lines: ['Annotated ORFs'] },
        { y: 31.5, color: colors.novel, lines: ['Novel ORFs'] },
      ],
    });

    drawScatter(svg, 352, [
      { points: allNoncoding, rows: rowPoints, color: colors.noncoding },
      { points: allAnnotated, color: colors.annotated },
    ], {
      top: 504, height: 52, labelY: 600, yLabelCenter: 453,
      entries: [
        { y: 13.5, color: colors.annotated, lines: ['Annotated ORFs'] },
        { y: 31.5, color: colors.noncoding, lines: ['Non-coding control', 'transcripts'] },
      ],
    });

    drawScatter(svg, 647, [
      { points: allNovel, color: colors.novel },
      { points: allNoncoding, rows: rowPoints, color: colors.noncoding },
    ], {
      top: 796, height: 52, labelY: 891, yLabelCenter: 745,
      entries: [
        { y: 13.5, color: colors.novel, lines: ['Novel ORFs'] },
        { y: 31.5, color: colors.noncoding, lines: ['Non-coding control', 'transcripts'] },
      ],
    });

    drawCdf(svg, 62, 206, 'Normalized RNA-seq Coverage', 309, [
      { values: rnaAnnotated, color: lineColors.annotated },
      { values: rnaNoncoding, color: lineColors.noncoding },
      { values: rnaNovel, color: lineColors.novel },
    ], 179.5);

    drawCdf(svg, 357, 205.5, 'Normalized Ribo-seq Coverage', 598, [
      { values: riboAnnotated, color: lineColors.annotated },
      { values: riboNoncoding, color: lineColors.noncoding },
      { values: riboNovel, color: lineColors.novel },
    ], 473.5);

    [['A', 0, 29], ['B', 360, 29], ['C', 361, 339]].forEach(([letter, x, y]) => {
      svg.append('text')
        .attr('x', x)
        .attr('y', y)
        .attr('font-size', 40)
        .attr('fill', '#000')
        .text(letter);
    });
  }, []);

  return (
    <svg
      ref={ref}
      width={719}
      height={895}
      style={{ position: 'absolute', left: 0, top: 0, fontFamily }}
    />
  );
}
